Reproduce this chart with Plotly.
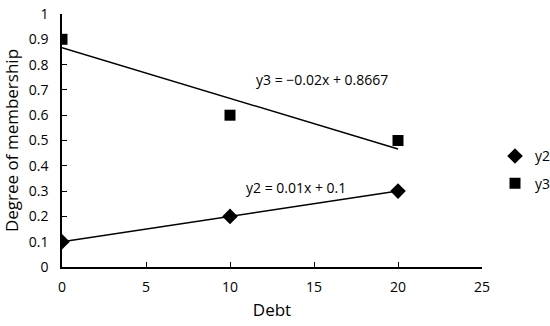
import numpy as np
import plotly.graph_objects as go

# Data
debt = [0, 10, 20]
y2 = [0.1, 0.2, 0.3]
y3 = [0.9, 0.6, 0.5]

FONT = "Open Sans, Liberation Sans, sans-serif"


def trend(x, y):
    slope, intercept = np.polyfit(x, y, 1)
    xs = np.array([min(x), max(x)])
    return xs, slope * xs + intercept, slope, intercept


fig = go.Figure()

for name, ys, symbol, size in [("y2", y2, "diamond", 12), ("y3", y3, "square", 11)]:
    xs, yt, m, b = trend(debt, ys)
    fig.add_trace(go.Scatter(x=xs, y=yt, mode="lines", showlegend=False,
                             line=dict(color="black", width=1.5), hoverinfo="skip"))
    fig.add_trace(go.Scatter(x=debt, y=ys, mode="markers", name=name, legendgroup=name,
                             marker=dict(symbol=symbol, size=size, color="black")))

fig.add_annotation(x=15.5, y=0.74, text="y3 = \u22120.02x + 0.8667", showarrow=False,
                   font=dict(size=14, color="black", family=FONT))
fig.add_annotation(x=13.9, y=0.313, text="y2 = 0.01x + 0.1", showarrow=False,
                   font=dict(size=14, color="black", family=FONT))

fig.update_layout(
    width=550, height=326,
    margin=dict(l=62, r=68, t=14, b=59),
    plot_bgcolor="white", paper_bgcolor="white",
    font=dict(family=FONT, size=14, color="black"),
    legend=dict(xref="container", yref="container", x=0.9, y=0.479,
                yanchor="middle", xanchor="left",
                itemwidth=30, tracegroupgap=6, font=dict(size=14)),
)
fig.update_xaxes(range=[0, 25], dtick=5, ticks="inside", ticklen=5, tickcolor="black",
                 showline=True, linecolor="black", linewidth=1.5, showgrid=False,
                 zeroline=False, automargin=False, tickfont=dict(size=14),
                 ticklabelstandoff=6, title=dict(text="Debt", standoff=10))
fig.update_yaxes(range=[0, 1], dtick=0.1, ticks="inside", ticklen=5, tickcolor="black",
                 showline=True, linecolor="black", linewidth=1.5, showgrid=False,
                 zeroline=False, automargin=False, tickfont=dict(size=14),
                 ticklabelstandoff=9, title=dict(text="Degree of membership", standoff=12))

# drop the default 8px body margin so the figure sits at the window's corner
fig.write_html("out.html", config={"displayModeBar": False},
               post_script="document.body.style.margin = '0';")
